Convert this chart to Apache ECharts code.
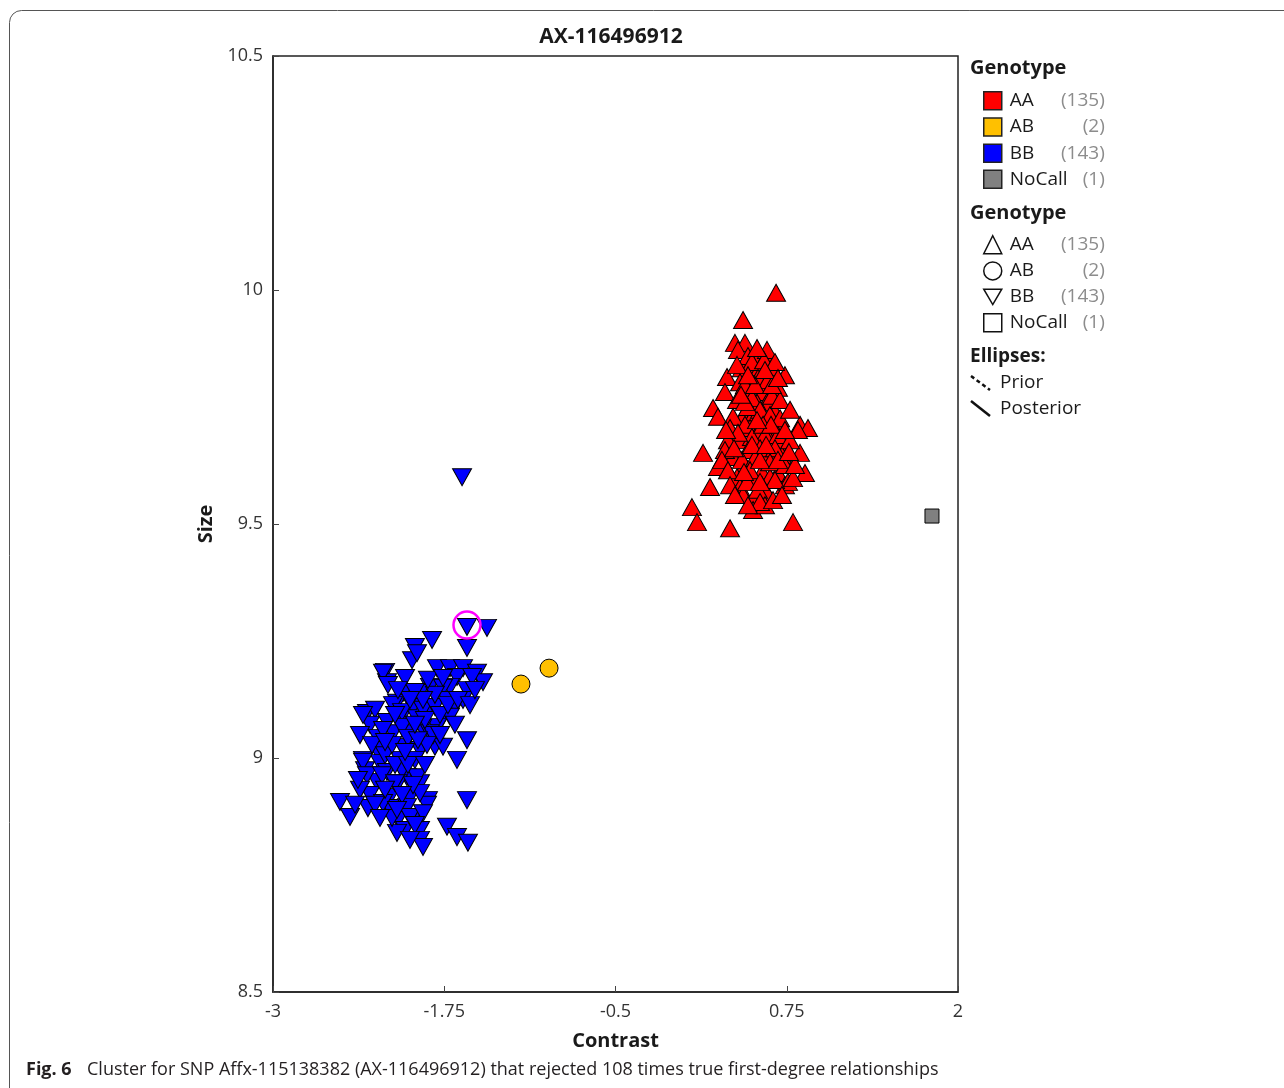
<!DOCTYPE html>
<html>
<head>
<meta charset="utf-8" />
<title>AX-116496912</title>
<style>
  html, body { margin: 0; padding: 0; background: #fff; }
  #chart { width: 1284px; height: 1088px; }
</style>
</head>
<body>
<div id="chart"></div>
<script src="https://cdn.jsdelivr.net/npm/echarts@6/dist/echarts.min.js"></script>
<script>
var xTicks = [-3, -1.75, -0.5, 0.75, 2];
var genotypes = ['AA', 'AB', 'BB', 'NoCall'];
var counts = { AA: 135, AB: 2, BB: 143, NoCall: 1 };

// AA cluster (red up triangles)
var aaData = [
  [0.672,9.994],[0.431,9.936],[0.372,9.887],[0.445,9.887],[0.555,9.861],[0.628,9.855],[0.606,9.872],[0.423,9.833],
  [0.504,9.823],[0.555,9.835],[0.642,9.835],[0.314,9.814],[0.737,9.818],[0.409,9.803],[0.299,9.782],[0.467,9.780],
  [0.569,9.782],[0.686,9.791],[0.387,9.765],[0.606,9.761],[0.533,9.759],[0.212,9.748],[0.664,9.739],[0.431,9.729],
  [0.518,9.739],[0.248,9.729],[0.358,9.729],[0.591,9.718],[0.715,9.707],[0.847,9.712],[0.905,9.705],[0.336,9.705],
  [0.482,9.705],[0.642,9.701],[0.409,9.679],[0.518,9.673],[0.628,9.679],[0.723,9.675],[0.139,9.652],[0.358,9.643],
  [0.606,9.652],[0.715,9.647],[0.847,9.652],[0.248,9.622],[0.445,9.626],[0.569,9.611],[0.686,9.609],[0.883,9.609],
  [0.387,9.600],[0.504,9.598],[0.628,9.600],[0.190,9.579],[0.409,9.579],[0.569,9.583],[0.737,9.583],[0.431,9.562],
  [0.518,9.558],[0.613,9.562],[0.504,9.530],[0.058,9.536],[0.095,9.504],[0.336,9.491],[0.796,9.504],[0.759,9.590],
  [0.606,9.566],
  [0.394,9.872],[0.467,9.859],[0.496,9.846],[0.584,9.850],[0.664,9.846],[0.540,9.812],[0.613,9.808],[0.445,9.797],
  [0.496,9.769],[0.642,9.774],[0.555,9.744],[0.467,9.750],[0.445,9.761],[0.628,9.733],[0.701,9.726],[0.445,9.712],
  [0.540,9.697],[0.591,9.690],[0.496,9.686],[0.394,9.695],[0.686,9.690],[0.774,9.679],[0.555,9.662],[0.467,9.658],
  [0.664,9.662],[0.423,9.637],[0.518,9.641],[0.628,9.632],[0.737,9.626],[0.482,9.615],[0.555,9.637],[0.664,9.594],
  [0.460,9.590],[0.540,9.573],[0.591,9.540],[0.555,9.547],[0.467,9.540],[0.650,9.551],[0.715,9.562],[0.796,9.598],
  [0.810,9.626],[0.321,9.679],[0.299,9.658],[0.277,9.637],[0.321,9.615],[0.336,9.583],[0.372,9.562],[0.387,9.840],
  [0.518,9.797],[0.701,9.765],[0.774,9.744],[0.832,9.701],[0.642,9.797],[0.416,9.776],[0.577,9.712],[0.635,9.712],
  [0.737,9.701],[0.533,9.722],[0.496,9.669],[0.599,9.669],[0.438,9.611],[0.555,9.590],[0.686,9.637],[0.766,9.654],
  [0.365,9.662],[0.307,9.701],[0.467,9.818],[0.591,9.829],[0.686,9.812],[0.533,9.876]
];

// AB (yellow circles)
var abData = [[-1.190, 9.158], [-0.985, 9.192]];

// BB cluster (blue down triangles)
var bbData = [
  [-1.620,9.600],[-1.584,9.280],[-1.438,9.278],[-1.839,9.252],[-1.964,9.237],[-1.584,9.235],[-1.985,9.209],[-2.182,9.184],
  [-2.168,9.162],[-2.036,9.171],[-1.803,9.192],[-1.708,9.192],[-1.613,9.192],[-1.511,9.182],[-1.467,9.162],[-1.657,9.173],
  [-1.854,9.152],[-1.927,9.139],[-1.584,9.145],[-1.708,9.152],[-2.051,9.139],[-2.095,9.118],[-2.314,9.096],[-2.255,9.103],
  [-1.978,9.109],[-1.854,9.109],[-1.686,9.103],[-1.759,9.088],[-2.292,9.071],[-2.168,9.077],[-2.073,9.081],[-1.949,9.085],
  [-1.803,9.066],[-1.912,9.064],[-2.234,9.043],[-2.124,9.053],[-2.000,9.053],[-1.854,9.053],[-1.584,9.038],[-2.241,9.017],
  [-2.051,9.024],[-1.927,9.017],[-1.818,9.024],[-1.657,8.996],[-2.343,8.996],[-2.219,8.989],[-2.073,8.996],[-1.964,8.996],
  [-2.328,8.974],[-2.168,8.970],[-2.022,8.959],[-2.241,8.949],[-2.088,8.946],[-1.927,8.946],[-2.292,8.921],[-2.146,8.917],
  [-2.000,8.917],[-1.869,8.910],[-1.584,8.910],[-2.511,8.906],[-2.438,8.874],[-2.307,8.893],[-2.146,8.893],[-2.022,8.895],
  [-1.876,8.900],[-2.088,8.868],[-1.978,8.872],[-1.927,8.846],[-1.730,8.853],[-1.657,8.831],[-1.577,8.819],[-1.927,8.825],
  [-2.036,8.846],[-2.095,8.840],[-1.905,8.810],
  [-1.949,9.224],[-2.197,9.182],[-1.547,9.173],[-2.161,9.156],[-1.964,9.141],[-1.759,9.150],[-1.613,9.124],[-1.730,9.124],
  [-2.124,9.113],[-2.343,9.092],[-2.058,9.098],[-1.905,9.103],[-1.818,9.109],[-1.708,9.088],[-2.058,9.066],[-1.832,9.049],
  [-1.759,9.024],[-2.015,9.043],[-1.876,9.028],[-2.343,8.992],[-2.314,8.963],[-2.204,8.963],[-2.058,8.974],[-1.949,8.959],
  [-2.109,8.946],[-1.927,8.925],[-2.197,8.904],[-2.131,8.872],[-2.000,8.874],[-1.905,8.882],
  [-2.365,9.049],[-2.277,9.028],[-2.182,9.006],[-2.131,9.028],[-2.109,8.985],[-2.015,8.985],[-1.891,8.985],[-1.942,9.038],
  [-1.891,9.081],[-1.781,9.092],[-1.723,9.113],[-1.650,9.124],[-1.818,9.135],[-1.905,9.124],[-2.000,9.124],[-2.109,9.092],
  [-2.197,9.060],[-2.036,9.013],[-1.978,8.942],[-2.182,8.932],[-2.058,8.921],[-2.255,8.900],[-2.095,8.889],[-1.964,8.857],
  [-2.000,8.825],[-2.219,8.872],[-2.365,8.932],[-2.380,8.953],[-2.182,9.034],[-1.964,9.071],[-1.781,9.049],[-1.672,9.071],
  [-1.562,9.113],[-1.526,9.145],[-1.869,9.167],[-1.759,9.171],[-2.088,9.145],[-2.401,8.900]
];

// NoCall (grey square)
var noCallData = [[1.810, 9.517]];

// sample marked with the magenta ring
var flaggedData = [[-1.584, 9.284]];

var FONT = '"Open Sans", "Noto Sans", sans-serif';
var downTri = 'path://M0,0L20,0L10,17Z';

var myChart = echarts.init(document.getElementById('chart'));

function legendText(name) {
  return '{n|' + name + '}{c|(' + counts[name] + ')}';
}
var legendRich = {
  n: { width: 51, fontSize: 19, lineHeight: 20, color: '#1a1a1a', fontFamily: FONT, padding: [0, 0, 0, 3] },
  c: { width: 44, align: 'right', fontSize: 19, lineHeight: 20, color: '#8c8c8c', fontFamily: FONT }
};
var outline = { color: '#fff', borderColor: '#111', borderWidth: 1.5 };

var option = {
  backgroundColor: '#fff',
  animation: false,
  grid: {
    left: 273, top: 56, width: 685, height: 936,
    show: true, borderColor: '#222', borderWidth: 1.5
  },
  xAxis: {
    type: 'value', min: -3, max: 2,
    name: 'Contrast', nameLocation: 'middle', nameGap: 39,
    nameTextStyle: { fontFamily: FONT, fontSize: 20, fontWeight: 'bold', color: '#1a1a1a' },
    splitLine: { show: false },
    axisLine: { onZero: false, lineStyle: { color: '#222', width: 1.5 } },
    axisTick: { inside: true, length: 6, lineStyle: { color: '#444' }, customValues: xTicks },
    axisLabel: { customValues: xTicks, margin: 11, fontSize: 18, fontFamily: FONT, color: '#333' }
  },
  yAxis: {
    type: 'value', min: 8.5, max: 10.5, interval: 0.5,
    name: 'Size', nameLocation: 'middle', nameGap: 52, nameRotate: 90,
    nameTextStyle: { fontFamily: FONT, fontSize: 20, fontWeight: 'bold', color: '#1a1a1a' },
    splitLine: { show: false },
    axisLine: { onZero: false, lineStyle: { color: '#222', width: 1.5 } },
    axisTick: { inside: true, length: 6, lineStyle: { color: '#444' } },
    axisLabel: { margin: 10, fontSize: 18, fontFamily: FONT, color: '#333' }
  },
  legend: [
    {
      orient: 'vertical', left: 978, top: 86,
      itemWidth: 18, itemHeight: 18, itemGap: 6.7,
      icon: 'rect', selectedMode: false,
      itemStyle: { borderColor: '#222', borderWidth: 1.5 },
      data: genotypes,
      formatter: legendText,
      textStyle: { rich: legendRich }
    },
    {
      orient: 'vertical', left: 978, top: 230,
      itemWidth: 18, itemHeight: 18, itemGap: 6.7,
      selectedMode: false, symbolRotate: 0,
      data: [
        { name: 'AA', icon: 'triangle', itemStyle: outline },
        { name: 'AB', icon: 'circle', itemStyle: outline },
        { name: 'BB', icon: downTri, itemStyle: outline },
        { name: 'NoCall', icon: 'path://M1,1L15,1L15,15L1,15Z', itemStyle: outline }
      ],
      formatter: legendText,
      textStyle: { rich: legendRich }
    }
  ],
  series: [
    {
      name: 'AA', type: 'scatter', data: aaData,
      symbol: 'triangle', symbolSize: [19, 17],
      itemStyle: { color: '#ff0000', borderColor: '#000', borderWidth: 1, opacity: 1 }
    },
    {
      name: 'AB', type: 'scatter', data: abData,
      symbol: 'circle', symbolSize: 18,
      itemStyle: { color: '#ffc000', borderColor: '#000', borderWidth: 1, opacity: 1 }
    },
    {
      name: 'BB', type: 'scatter', data: bbData,
      symbol: downTri, symbolSize: [19, 17],
      itemStyle: { color: '#0000ff', borderColor: '#000', borderWidth: 1, opacity: 1 }
    },
    {
      name: 'NoCall', type: 'scatter', data: noCallData,
      symbol: 'rect', symbolSize: 14,
      itemStyle: { color: '#808080', borderColor: '#000', borderWidth: 1, opacity: 1 }
    },
    {
      name: 'flagged', type: 'scatter', data: flaggedData,
      symbol: 'circle', symbolSize: 27, z: 5,
      itemStyle: { color: 'rgba(0,0,0,0)', borderColor: '#ff00ff', borderWidth: 2.5, opacity: 1 }
    }
  ],
  graphic: [
    {
      type: 'rect', z: -1, silent: true,
      shape: { x: 9.5, y: 10.5, width: 1300, height: 1092, r: 12 },
      style: { fill: 'none', stroke: '#555', lineWidth: 1 }
    },
    {
      type: 'text', x: 611, y: 37,
      style: { text: 'AX-116496912', font: 'bold 21px ' + FONT, fill: '#1a1a1a', textAlign: 'center', textVerticalAlign: 'middle' }
    },
    {
      type: 'text', x: 970, y: 68,
      style: { text: 'Genotype', font: 'bold 20px ' + FONT, fill: '#1a1a1a', textVerticalAlign: 'middle' }
    },
    {
      type: 'text', x: 970, y: 213,
      style: { text: 'Genotype', font: 'bold 20px ' + FONT, fill: '#1a1a1a', textVerticalAlign: 'middle' }
    },
    {
      type: 'text', x: 970, y: 357,
      style: { text: 'Ellipses:', font: 'bold 19px ' + FONT, fill: '#1a1a1a', textVerticalAlign: 'middle' }
    },
    {
      type: 'line', shape: { x1: 971, y1: 376, x2: 990, y2: 390 },
      style: { stroke: '#111', lineWidth: 2.5, lineDash: [4, 3] }
    },
    {
      type: 'text', x: 1000, y: 383,
      style: { text: 'Prior', font: '19px ' + FONT, fill: '#1a1a1a', textVerticalAlign: 'middle' }
    },
    {
      type: 'line', shape: { x1: 971, y1: 401, x2: 990, y2: 416 },
      style: { stroke: '#111', lineWidth: 2.5 }
    },
    {
      type: 'text', x: 1000, y: 409,
      style: { text: 'Posterior', font: '19px ' + FONT, fill: '#1a1a1a', textVerticalAlign: 'middle' }
    },
    {
      type: 'text', x: 26, y: 1070,
      style: { text: 'Fig. 6', font: 'bold 18px ' + FONT, fill: '#231f20', textVerticalAlign: 'middle' }
    },
    {
      type: 'text', x: 87, y: 1070,
      style: { text: 'Cluster for SNP Affx-115138382 (AX-116496912) that rejected 108 times true first-degree relationships',
        font: '18px ' + FONT, fill: '#231f20', textVerticalAlign: 'middle' }
    }
  ]
};

myChart.setOption(option);
</script>
</body>
</html>
